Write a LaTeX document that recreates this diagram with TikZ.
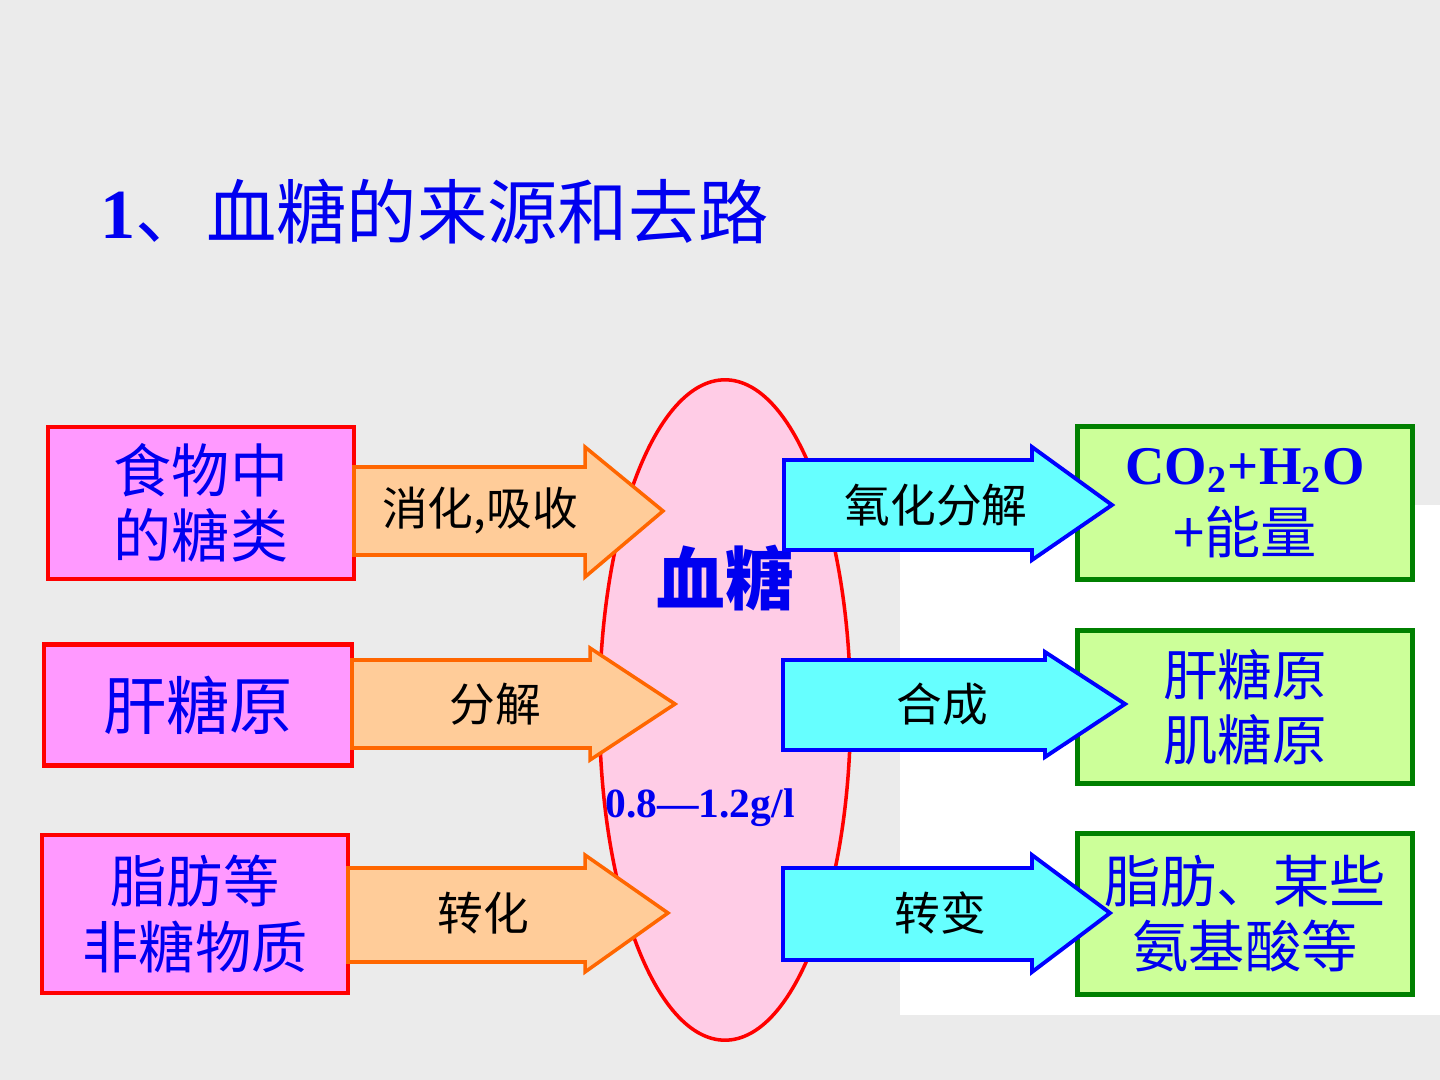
\documentclass[tikz,border=0pt]{standalone}
\usepackage{fontspec}
\usepackage{tikz}
\usetikzlibrary{shapes.geometric}
\setmainfont{Liberation Serif}
\newfontfamily\cjk{Noto Sans CJK SC}

\definecolor{bggray}{HTML}{EBEBEB}
\definecolor{txtblue}{HTML}{0000F0}
\definecolor{srcfill}{HTML}{FF99FF}
\definecolor{sinkfill}{HTML}{CCFF99}
\definecolor{sinkline}{HTML}{008000}
\definecolor{orfill}{HTML}{FFCC99}
\definecolor{orline}{HTML}{FF6600}
\definecolor{cyfill}{HTML}{66FFFF}
\definecolor{bloodfill}{HTML}{FFCCE6}

\tikzset{
  srcbox/.style={rectangle, draw=red, fill=srcfill, line width=1.2pt, text=txtblue, align=center, inner sep=0pt},
  sinkbox/.style={rectangle, draw=sinkline, fill=sinkfill, line width=1.4pt, text=txtblue, align=center, inner sep=0pt},
  inarrow/.style={draw=orline, fill=orfill, line width=1pt, line join=miter},
  outarrow/.style={draw=blue, fill=cyfill, line width=1.1pt, line join=miter},
  arrowtext/.style={font=\cjk\fontsize{13}{15}\selectfont, text=black}
}

\begin{document}
\begin{tikzpicture}[x=0.01cm,y=-0.01cm]

			\fill[bggray] (0,0) rectangle (1440,1080);
			\fill[white] (900,505) rectangle (1440,1015);
			\useasboundingbox (0,0) rectangle (1440,1080);

			\node[anchor=west, text=txtblue, inner sep=0pt] (title) at (100,212)
				{\fontsize{20}{23}\selectfont\textbf{1}{\cjk 、血糖的来源和去路}};

			% blood sugar
			\node[ellipse, draw=red, fill=bloodfill, line width=1pt, minimum width=2.51cm, minimum height=6.6cm, inner sep=0pt] (blood) at (725,710) {};
			\node[text=txtblue, font=\cjk\bfseries\fontsize{19.5}{22}\selectfont] (bt) at (725,578) {血糖};
			\node[text=txtblue, font=\bfseries\fontsize{11.8}{14}\selectfont] (range) at (700,808) {0.8—1.2g/l};

			% sources
			\node[srcbox, minimum width=3.06cm, minimum height=1.52cm, font=\cjk\fontsize{16.5}{18.5}\selectfont] (food) at (201,503) {食物中\\的糖类};
			\node[srcbox, minimum width=3.08cm, minimum height=1.21cm, font=\cjk\fontsize{18}{20}\selectfont] (liver) at (198,705) {肝糖原};
			\node[srcbox, minimum width=3.06cm, minimum height=1.58cm, font=\cjk\fontsize{16}{18.5}\selectfont] (fat) at (195,914) {脂肪等\\非糖物质};

			% sinks
			\node[sinkbox, minimum width=3.34cm, minimum height=1.53cm] (co) at (1245,503)
				{\bfseries\fontsize{15.5}{17}\selectfont CO\textsubscript{2}+H\textsubscript{2}O\\[3pt]{\cjk\mdseries\fontsize{16}{18}\selectfont +能量}};
			\node[sinkbox, minimum width=3.34cm, minimum height=1.52cm, font=\cjk\fontsize{15.5}{18.5}\selectfont] (gly) at (1245,707) {肝糖原\\肌糖原};
			\node[sinkbox, minimum width=3.34cm, minimum height=1.60cm, font=\cjk\fontsize{16}{18.5}\selectfont] (amino) at (1245,914) {脂肪、某些\\氨基酸等};

			% arrows in
			\draw[inarrow] (354,467) -- (585,467) -- (585,447) -- (663,511) -- (585,577) -- (585,555) -- (354,555) -- cycle;
			\draw[inarrow] (352,660) -- (590,660) -- (590,648) -- (675,704) -- (590,760) -- (590,748) -- (352,748) -- cycle;
			\draw[inarrow] (348,868) -- (585,868) -- (585,855) -- (668,913) -- (585,972) -- (585,962) -- (348,962) -- cycle;
			\node[arrowtext] (l1) at (480,511) {消化,吸收};
			\node[arrowtext] (l2) at (495,704) {分解};
			\node[arrowtext] (l3) at (483,913) {转化};

			% arrows out
			\draw[outarrow] (784,460) -- (1032,460) -- (1032,447) -- (1112,505) -- (1032,560) -- (1032,550) -- (784,550) -- cycle;
			\draw[outarrow] (783,660) -- (1045,660) -- (1045,652) -- (1125,704) -- (1045,757) -- (1045,750) -- (783,750) -- cycle;
			\draw[outarrow] (783,868) -- (1032,868) -- (1032,855) -- (1110,913) -- (1032,972) -- (1032,960) -- (783,960) -- cycle;
			\node[arrowtext] (r1) at (936,505) {氧化分解};
			\node[arrowtext] (r2) at (942,704) {合成};
			\node[arrowtext] (r3) at (940,913) {转变};

\end{tikzpicture}
\end{document}
